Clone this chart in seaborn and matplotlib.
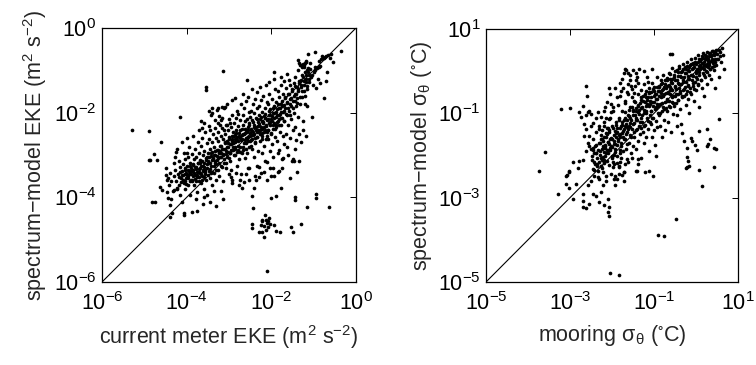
import numpy as np
import pandas as pd
import matplotlib
matplotlib.use("Agg")
import matplotlib.pyplot as plt
import seaborn as sns
from matplotlib.ticker import LogFormatterMathtext, NullLocator

# ---------------- data (log10 of the values) ----------------
# left panel: (current meter EKE, spectrum-model EKE), log10 m^2 s^-2
eke_log10 = [
    (-5.30,-2.40),(-4.89,-2.43),(-4.60,-2.70),(-4.89,-3.11),(-4.77,-2.97),(-4.16,-2.10),(-3.55,-1.39),(-3.55,-1.46),
    (-3.13,-1.01),(-2.58,-1.22),(-1.94,-1.05),(-0.98,-0.57),(-0.36,-0.54),
    (-4.82,-4.10),(-4.74,-4.10),(-4.62,-3.75),(-4.58,-3.83),(-4.43,-4.02),(-4.39,-4.18),(-4.35,-4.38),(-4.39,-4.46),
    (-4.07,-4.38),(-4.07,-4.42),(-3.87,-4.34),(-3.76,-4.32),(-4.86,-3.12),(-4.70,-3.12),(-4.50,-3.47),(-4.46,-3.59),
    (-4.31,-3.83),(-4.23,-3.79),(-3.62,-4.15),(-3.45,-4.12),(-3.30,-4.20),(-3.15,-4.05),(-4.25,-2.93),(-3.99,-2.95),
    (-3.40,-1.89),(-3.28,-1.93),(-3.17,-1.87),(-3.09,-1.87),(-3.40,-2.00),(-3.24,-2.09),(-3.20,-2.17),(-3.26,-2.24),
    (-3.60,-2.24),(-3.64,-2.36),(-3.48,-2.32),(-3.32,-2.36),(-3.17,-2.36),(-3.05,-2.28),
    (-4.48,-3.30),(-4.45,-3.55),(-4.42,-3.72),(-4.40,-3.42),(-4.36,-3.62),(-4.33,-3.85),(-4.31,-3.20),(-4.30,-3.50),
    (-4.47,-3.88),(-4.38,-4.05),
    (-4.28,-3.05),(-4.27,-3.35),(-4.25,-3.62),(-4.24,-3.80),(-4.22,-2.85),(-4.20,-3.45),(-4.19,-3.15),(-4.18,-3.70),
    (-4.16,-3.95),(-4.15,-3.28),(-4.14,-3.55),(-4.12,-2.70),(-4.11,-3.38),(-4.10,-4.10),
    (-4.09,-3.22),(-4.08,-3.48),(-4.07,-3.65),(-4.06,-2.95),(-4.05,-3.35),(-4.04,-3.80),(-4.03,-3.10),(-4.02,-3.55),
    (-4.01,-3.42),(-4.00,-2.60),(-3.99,-3.25),(-3.98,-3.70),(-3.97,-3.05),(-3.96,-3.50),(-3.95,-3.38),(-3.94,-2.80),
    (-3.93,-3.62),(-3.92,-3.18),(-3.91,-3.95),(-3.90,-3.30),
    (-3.89,-3.45),(-3.88,-2.98),(-3.87,-3.58),(-3.86,-3.22),(-3.85,-2.55),(-3.84,-3.35),(-3.83,-3.72),(-3.82,-3.10),
    (-3.81,-3.48),(-3.80,-2.85),(-3.79,-3.28),(-3.78,-3.62),(-3.77,-3.05),(-3.76,-3.40),(-3.75,-3.88),(-3.74,-2.70),
    (-3.73,-3.18),(-3.72,-3.52),(-3.71,-3.32),(-3.70,-2.95),(-3.79,-4.05),(-3.72,-2.40),
    (-3.69,-3.42),(-3.68,-3.12),(-3.67,-3.65),(-3.66,-2.78),(-3.65,-3.25),(-3.64,-3.50),(-3.63,-2.60),(-3.62,-3.00),
    (-3.61,-3.35),(-3.60,-3.80),(-3.59,-2.90),(-3.58,-3.20),(-3.57,-3.45),(-3.56,-2.45),(-3.55,-3.08),(-3.54,-3.60),
    (-3.53,-2.72),(-3.52,-3.30),(-3.51,-3.95),(-3.50,-2.95),(-3.66,-2.20),(-3.58,-4.00),
    (-3.49,-3.15),(-3.48,-2.62),(-3.47,-3.38),(-3.46,-2.85),(-3.45,-3.55),(-3.44,-2.40),(-3.43,-3.02),(-3.42,-3.25),
    (-3.41,-2.70),(-3.40,-3.70),(-3.39,-2.92),(-3.38,-3.10),(-3.37,-2.50),(-3.36,-3.42),(-3.35,-2.80),(-3.34,-3.20),
    (-3.33,-2.18),(-3.32,-3.00),(-3.31,-3.58),(-3.30,-2.60),(-3.48,-1.95),(-3.35,-3.85),(-3.42,-2.05),
    (-3.29,-2.88),(-3.28,-3.12),(-3.27,-2.45),(-3.26,-3.35),(-3.25,-2.68),(-3.24,-2.95),(-3.23,-3.50),(-3.22,-2.30),
    (-3.21,-2.78),(-3.20,-3.05),(-3.19,-2.55),(-3.18,-3.25),(-3.17,-2.85),(-3.16,-2.12),(-3.15,-3.62),(-3.14,-2.62),
    (-3.13,-2.98),(-3.12,-2.40),(-3.11,-3.18),(-3.10,-2.72),(-3.27,-1.90),(-3.18,-3.85),(-3.12,-1.88),
    (-3.09,-2.50),(-3.08,-2.90),(-3.07,-3.30),(-3.06,-2.28),(-3.05,-2.68),(-3.04,-3.05),(-3.03,-2.42),(-3.02,-2.82),
    (-3.01,-3.45),(-3.00,-2.15),(-2.99,-2.58),(-2.98,-2.95),(-2.97,-3.15),(-2.96,-2.35),(-2.95,-2.75),(-2.94,-2.05),
    (-2.93,-3.60),(-2.92,-2.62),(-2.91,-2.88),(-2.90,-2.45),(-3.05,-1.80),(-2.95,-3.35),(-2.92,-1.70),(-2.98,-2.25),
    (-2.89,-2.70),(-2.88,-2.25),(-2.87,-3.00),(-2.86,-2.52),(-2.85,-2.85),(-2.84,-2.12),(-2.83,-2.40),(-2.82,-3.25),
    (-2.81,-2.65),(-2.80,-1.95),(-2.79,-2.32),(-2.78,-2.78),(-2.77,-3.10),(-2.76,-2.48),(-2.75,-2.18),(-2.74,-2.92),
    (-2.73,-2.58),(-2.72,-1.80),(-2.71,-3.45),(-2.70,-2.38),(-2.86,-1.65),(-2.78,-2.02),(-2.74,-3.60),(-2.88,-2.55),
    (-2.69,-2.62),(-2.68,-2.05),(-2.67,-2.88),(-2.66,-2.30),(-2.65,-2.50),(-2.64,-1.88),(-2.63,-3.08),(-2.62,-2.20),
    (-2.61,-2.72),(-2.60,-2.42),(-2.59,-1.72),(-2.58,-2.95),(-2.57,-2.15),(-2.56,-2.58),(-2.55,-2.35),(-2.54,-3.30),
    (-2.53,-1.98),(-2.52,-2.80),(-2.51,-2.48),(-2.50,-2.10),(-2.66,-1.55),(-2.60,-3.45),(-2.55,-1.62),(-2.62,-2.65),
    (-2.52,-2.25),
    (-2.49,-2.65),(-2.48,-1.95),(-2.47,-2.38),(-2.46,-2.85),(-2.45,-2.18),(-2.44,-1.80),(-2.43,-2.52),(-2.42,-3.05),
    (-2.41,-2.28),(-2.40,-2.00),(-2.39,-2.70),(-2.38,-1.68),(-2.37,-2.42),(-2.36,-2.12),(-2.35,-3.25),(-2.34,-2.58),
    (-2.33,-1.90),(-2.32,-2.32),(-2.31,-2.90),(-2.30,-2.05),(-2.46,-1.45),(-2.38,-3.50),(-2.34,-1.52),(-2.44,-2.45),
    (-2.32,-2.22),
    (-2.29,-2.45),(-2.28,-1.85),(-2.27,-2.68),(-2.26,-2.15),(-2.25,-1.70),(-2.24,-2.35),(-2.23,-2.95),(-2.22,-1.98),
    (-2.21,-2.55),(-2.20,-2.25),(-2.19,-1.60),(-2.18,-2.78),(-2.17,-2.08),(-2.16,-2.42),(-2.15,-3.15),(-2.14,-1.88),
    (-2.13,-2.30),(-2.12,-2.62),(-2.11,-1.75),(-2.10,-2.18),(-2.26,-1.40),(-2.18,-3.40),(-2.12,-1.35),(-2.22,-2.48),
    (-2.09,-2.40),(-2.08,-1.80),(-2.07,-2.62),(-2.06,-2.05),(-2.05,-1.55),(-2.04,-2.28),(-2.03,-2.90),(-2.02,-1.92),
    (-2.01,-2.50),(-2.00,-2.15),(-1.99,-1.68),(-1.98,-2.75),(-1.97,-2.00),(-1.96,-2.38),(-1.95,-3.05),(-1.94,-1.85),
    (-1.93,-2.25),(-1.92,-1.45),(-1.91,-2.58),(-1.90,-2.10),(-2.06,-1.28),(-1.97,-3.30),(-1.93,-1.20),
    (-1.89,-2.35),(-1.88,-1.75),(-1.87,-2.05),(-1.86,-2.68),(-1.85,-1.50),(-1.84,-2.20),(-1.83,-1.90),(-1.82,-2.88),
    (-1.81,-1.62),(-1.80,-2.45),(-1.79,-2.02),(-1.78,-1.35),(-1.77,-2.30),(-1.76,-1.80),(-1.75,-3.10),(-1.74,-2.12),
    (-1.73,-1.55),(-1.72,-2.55),(-1.71,-1.95),(-1.70,-1.25),(-1.84,-3.40),(-1.78,-1.15),
    (-1.69,-2.20),(-1.68,-1.65),(-1.67,-1.90),(-1.66,-2.50),(-1.65,-1.42),(-1.64,-2.05),(-1.63,-1.78),(-1.62,-2.82),
    (-1.61,-1.55),(-1.60,-2.30),(-1.59,-1.22),(-1.58,-1.95),(-1.57,-2.60),(-1.56,-1.68),(-1.55,-1.35),(-1.54,-2.15),
    (-1.53,-1.85),(-1.52,-3.15),(-1.51,-1.50),(-1.50,-2.40),(-1.62,-1.08),
    (-1.49,-1.72),(-1.48,-3.10),(-1.47,-1.30),(-1.46,-2.00),(-1.45,-1.55),(-1.44,-2.35),(-1.43,-1.15),(-1.42,-1.85),
    (-1.41,-2.65),(-1.40,-1.40),(-1.39,-1.65),(-1.38,-2.10),(-1.37,-1.00),(-1.36,-1.50),(-1.35,-2.50),(-1.34,-1.25),
    (-1.33,-1.80),(-1.32,-0.88),
    (-1.29,-1.35),(-1.28,-1.10),(-1.27,-1.62),(-1.26,-0.85),(-1.25,-2.20),(-1.24,-1.25),(-1.23,-0.92),(-1.22,-1.48),
    (-1.21,-1.05),(-1.20,-1.80),(-1.19,-0.80),(-1.18,-1.20),(-1.17,-2.55),(-1.16,-1.00),(-1.15,-1.38),(-1.14,-0.95),
    (-1.12,-1.10),
    (-1.38,-0.76),(-1.34,-0.82),(-1.30,-0.88),(-1.27,-0.93),(-1.24,-0.88),(-1.21,-0.82),(-1.18,-0.77),(-1.08,-0.82),
    (-1.05,-1.10),(-1.00,-1.05),(-0.96,-1.00),(-0.92,-0.95),(-0.88,-0.92),(-0.84,-0.90),(-0.98,-0.92),(-0.87,-0.78),
    (-0.82,-0.74),(-0.78,-0.71),(-0.74,-0.68),(-0.70,-0.66),(-0.66,-0.64),(-0.80,-0.66),(-0.76,-0.70),(-0.62,-0.70),
    (-0.58,-0.62),(-1.10,-1.28),(-1.02,-1.35),(-0.90,-1.20),(-0.85,-1.30),(-0.95,-1.42),(-0.72,-1.25),(-0.68,-1.05),
    (-1.14,-0.62),(-0.55,-0.80),
    (-1.85,-2.95),(-1.70,-2.75),(-1.60,-3.00),(-1.45,-2.85),(-1.30,-2.70),(-1.40,-3.40),(-1.55,-3.55),(-1.75,-3.30),
    (-2.00,-3.50),(-2.10,-3.60),(-1.25,-2.40),(-1.05,-2.10),(-1.15,-1.85),(-0.75,-1.65),(-1.35,-3.15),
    (-2.11,-3.17),(-2.02,-3.31),(-1.82,-3.38),(-1.94,-3.49),(-1.72,-3.06),(-1.46,-3.13),(-1.76,-3.79),(-2.00,-4.01),
    (-1.88,-3.98),(-1.43,-4.00),(-1.43,-4.06),(-0.95,-3.93),(-0.95,-4.02),(-1.15,-4.22),(-0.64,-4.22),(-2.43,-4.26),
    (-2.15,-4.42),(-2.06,-4.48),(-2.13,-4.54),(-2.21,-4.57),(-2.25,-4.65),(-2.17,-4.67),(-2.09,-4.69),(-2.02,-4.64),
    (-2.13,-4.77),(-2.29,-4.81),(-2.21,-4.83),(-2.17,-4.93),(-2.45,-4.64),(-2.45,-4.73),(-1.94,-4.65),(-1.88,-4.80),
    (-1.80,-4.83),(-1.53,-4.69),(-1.48,-4.83),(-1.29,-4.64),(-2.11,-5.74),(-2.23,-4.53),(-2.07,-4.56),(-2.11,-4.61),
    (-2.69,-3.79),(-2.45,-3.96),(-2.92,-3.67),(-2.76,-3.71),(-2.65,-3.63),(-2.53,-3.59),(-2.37,-3.59),(-2.29,-3.51),
    (-2.25,-3.43),(-2.41,-3.79),(-2.84,-3.43),(-2.53,-3.31),(-2.29,-3.28),(-2.96,-3.51),
]

# denser core of the left cloud
eke_core_log10 = [
    (-4.18,-3.52),(-4.15,-3.41),(-4.13,-3.63),(-4.10,-3.47),(-4.08,-3.58),(-4.05,-3.30),(-4.03,-3.44),(-4.01,-3.68),
    (-3.98,-3.36),(-3.96,-3.55),(-3.94,-3.45),(-3.92,-3.27),(-3.90,-3.60),
    (-3.88,-3.38),(-3.86,-3.50),(-3.84,-3.24),(-3.82,-3.42),(-3.80,-3.57),(-3.78,-3.33),(-3.76,-3.47),(-3.74,-3.20),
    (-3.72,-3.40),(-3.70,-3.62),(-3.68,-3.30),(-3.66,-3.45),(-3.64,-3.15),(-3.62,-3.38),(-3.60,-3.52),
    (-3.58,-3.28),(-3.56,-3.40),(-3.54,-3.12),(-3.52,-3.22),(-3.50,-3.48),(-3.48,-3.05),(-3.46,-3.32),(-3.44,-3.18),
    (-3.42,-2.95),(-3.40,-3.40),(-3.38,-3.08),(-3.36,-3.25),(-3.34,-2.90),(-3.32,-3.15),(-3.30,-3.35),(-3.28,-3.02),
    (-3.26,-2.88),(-3.24,-3.20),(-3.22,-3.05),(-3.20,-2.78),(-3.18,-2.95),(-3.16,-3.28),(-3.14,-2.85),(-3.12,-3.10),
    (-3.10,-2.70),(-3.08,-2.98),(-3.06,-3.18),(-3.04,-2.80),(-3.02,-2.92),(-3.00,-2.62),(-2.99,-3.08),(-2.97,-2.75),
    (-2.95,-2.88),(-2.93,-2.55),(-2.91,-2.72),(-2.89,-3.00),(-2.87,-2.62),(-2.85,-2.80),(-2.83,-2.48),(-2.81,-2.92),
    (-2.79,-2.68),(-2.77,-2.55),(-2.75,-2.82),(-2.73,-2.40),(-2.71,-2.65),(-2.69,-2.95),(-2.67,-2.50),(-2.65,-2.72),
    (-2.63,-2.38),
    (-2.61,-2.60),(-2.59,-2.85),(-2.57,-2.45),(-2.55,-2.68),(-2.53,-2.30),(-2.51,-2.55),(-2.49,-2.78),(-2.47,-2.40),
    (-2.45,-2.62),(-2.43,-2.22),(-2.41,-2.50),(-2.39,-2.72),(-2.37,-2.35),(-2.35,-2.15),(-2.33,-2.58),(-2.31,-2.42),
    (-2.29,-2.28),
    (-2.27,-2.50),(-2.25,-2.10),(-2.23,-2.38),(-2.21,-2.62),(-2.19,-2.22),(-2.17,-2.45),(-2.15,-2.02),(-2.13,-2.32),
    (-2.11,-2.55),(-2.09,-2.15),(-2.07,-2.40),(-2.05,-1.95),(-2.03,-2.22),(-2.01,-2.48),(-1.99,-2.08),(-1.97,-2.30),
    (-1.95,-1.88),
    (-1.93,-2.12),(-1.91,-2.38),(-1.89,-1.98),(-1.87,-2.22),(-1.85,-1.80),(-1.83,-2.05),(-1.81,-2.30),(-1.79,-1.90),
    (-1.77,-2.12),(-1.75,-1.72),(-1.73,-1.98),(-1.71,-2.20),(-1.69,-1.82),(-1.67,-1.62),(-1.65,-2.02),
    (-1.63,-1.75),(-1.61,-1.90),(-1.59,-1.55),(-1.57,-1.80),(-1.55,-2.05),(-1.53,-1.65),(-1.51,-1.45),(-1.49,-1.88),
    (-1.47,-1.60),(-1.45,-1.72),(-1.43,-1.38),(-1.41,-1.55),(-1.39,-1.78),(-1.37,-1.45),(-1.35,-1.30),(-1.33,-1.62),
    (-1.31,-1.40),(-1.29,-1.22),(-1.27,-1.50),(-1.25,-1.15),(-1.23,-1.35),(-1.21,-1.60),(-1.19,-1.10),(-1.17,-1.28),
    (-1.15,-1.45),(-1.13,-1.05),(-1.11,-1.20),(-1.09,-0.98),(-1.07,-1.15),
    (-3.21,-2.90),(-3.15,-3.00),(-3.09,-2.86),(-3.03,-2.72),(-2.97,-2.95),(-2.94,-2.68),(-2.90,-2.82),(-2.86,-2.70),
    (-2.82,-2.58),(-2.78,-2.88),(-2.74,-2.60),(-2.70,-2.52),(-2.66,-2.80),(-2.62,-2.48),(-2.58,-2.62),(-2.54,-2.40),
    (-2.50,-2.66),(-2.46,-2.52),(-2.42,-2.35),(-2.38,-2.60),(-2.34,-2.45),(-2.30,-2.30),(-2.26,-2.40),(-2.22,-2.20),
    (-2.18,-2.35),(-2.14,-2.12),(-2.10,-2.45),(-2.06,-2.25),(-2.02,-2.05),(-1.98,-2.20),(-1.94,-2.00),(-1.90,-2.28),
    (-1.86,-1.92),(-1.82,-2.15),(-1.78,-1.98),(-1.74,-1.85),
    (-3.62,-3.25),(-3.57,-3.35),(-3.52,-3.05),(-3.47,-3.20),(-3.43,-3.42),(-3.39,-3.12),(-3.35,-3.00),(-3.31,-3.22),
    (-3.27,-3.08),(-3.23,-2.92),
    (-4.05,-3.62),(-3.99,-3.48),(-3.93,-3.38),(-3.87,-3.62),(-3.81,-3.28),(-3.75,-3.52),(-3.69,-3.18),(-3.63,-3.60),
]

# right panel: (mooring sigma_theta, spectrum-model sigma_theta), log10 deg C
sigma_log10 = [
    (-3.73,-2.36),(-3.60,-1.92),(-3.21,-0.89),(-3.01,-0.87),(-2.63,-0.34),(-2.60,-0.60),(-3.29,-2.92),
    (-3.10,-2.67),(-3.03,-2.78),(-2.86,-2.67),(-2.92,-3.03),(-2.70,-2.91),(-2.68,-3.07),(-2.70,-3.23),(-2.62,-3.25),
    (-2.54,-3.15),(-2.46,-2.91),(-2.38,-2.95),(-2.26,-2.87),(-2.30,-3.11),(-2.18,-3.17),(-2.10,-3.03),(-2.06,-3.23),
    (-2.10,-3.35),(-2.08,-3.43),(-3.03,-2.36),(-3.10,-2.48),(-2.94,-2.16),(-2.78,-2.12),(-2.70,-2.10),(-2.82,-2.30),
    (-2.58,-2.71),(-2.50,-2.60),(-2.42,-2.48),(-2.34,-2.36),(-2.26,-2.24),(-2.18,-2.16),(-2.46,-2.32),(-2.30,-2.56),
    (-2.14,-2.48),(-2.22,-2.71),(-2.05,-4.78),(-1.83,-4.84),(-3.07,-2.47),(-3.03,-2.39),
    (-0.21,-2.04),(-0.19,-2.14),(-0.17,-2.24),(-0.21,-2.28),(-0.24,-2.30),(0.06,-2.34),(0.42,-2.28),(0.14,-2.73),
    (-0.48,-3.51),(-0.90,-3.88),(-0.76,-3.91),
    (-1.96,-2.20),(-1.88,-2.17),(-1.80,-2.16),(-1.68,-2.20),(-1.84,-2.24),(-1.92,-2.48),(-1.84,-2.44),(-1.72,-2.40),
    (-1.72,-2.60),(-1.44,-2.36),(-1.40,-2.36),(-1.21,-2.40),(-1.11,-2.36),(-1.03,-2.48),(-1.37,-2.08),(-1.37,-2.20),
    (-1.64,-2.08),(-1.52,-2.06),(-1.88,-2.56),(-1.96,-2.56),(-1.76,-2.46),
    (0.54,-1.14),(0.26,-1.38),(0.06,-1.42),(0.34,-1.62),(0.42,-1.82),(0.26,-1.78),(-0.13,-1.58),(-0.10,-1.66),
    (-0.29,-1.66),(-0.21,-1.82),(-0.02,-1.74),(0.02,-1.86),(-0.33,-1.46),(-0.45,-1.30),(0.29,-1.72),(0.48,-1.84),
    (-2.70,-0.83),(-2.78,-0.98),(-2.74,-1.08),(-2.62,-1.05),(-2.54,-0.94),(-2.50,-1.02),(-2.58,-0.98),(-2.66,-1.26),
    (-2.62,-1.38),(-2.66,-1.54),(-2.54,-1.54),(-2.58,-1.70),(-2.54,-1.78),(-2.62,-1.90),(-2.46,-1.82),(-2.38,-1.94),
    (-2.22,-1.78),(-2.26,-1.62),(-2.14,-1.46),(-2.18,-1.30),(-2.30,-1.38),(-2.10,-1.34),(-2.06,-1.14),(-2.14,-1.10),
    (-2.02,-0.98),(-2.02,-0.79),(-2.06,-0.39),(-2.16,-0.84),(-2.26,-1.08),(-2.38,-1.10),(-2.34,-0.98),(-2.46,-1.22),
    (-2.50,-1.30),
    (-2.49,-1.85),(-2.47,-2.10),(-2.45,-1.62),(-2.44,-2.35),(-2.42,-1.95),(-2.41,-2.20),(-2.39,-1.45),(-2.37,-1.75),
    (-2.36,-2.05),(-2.34,-2.50),(-2.33,-1.88),(-2.31,-2.15),(-2.30,-1.30),
    (-2.29,-1.70),(-2.28,-1.98),(-2.27,-2.25),(-2.26,-1.52),(-2.25,-1.85),(-2.24,-2.10),(-2.23,-1.40),(-2.22,-2.40),
    (-2.21,-1.65),(-2.20,-1.92),(-2.19,-2.18),(-2.18,-1.20),(-2.17,-1.78),(-2.16,-2.02),(-2.15,-1.55),(-2.14,-2.60),
    (-2.13,-1.88),(-2.12,-1.35),(-2.11,-2.12),(-2.10,-1.68),
    (-2.09,-1.95),(-2.08,-1.45),(-2.07,-2.22),(-2.06,-1.72),(-2.05,-1.10),(-2.04,-1.88),(-2.03,-2.45),(-2.02,-1.58),
    (-2.01,-2.05),(-2.00,-1.30),(-1.99,-1.80),(-1.98,-2.15),(-1.97,-0.95),(-1.96,-1.65),(-1.95,-1.98),(-1.94,-1.42),
    (-1.93,-2.70),(-1.92,-1.85),(-1.91,-1.20),(-1.90,-1.55),
    (-1.89,-1.75),(-1.88,-2.00),(-1.87,-1.35),(-1.86,-0.80),(-1.85,-1.62),(-1.84,-2.28),(-1.83,-1.15),(-1.82,-1.88),
    (-1.81,-1.48),(-1.80,-0.60),(-1.79,-1.70),(-1.78,-2.05),(-1.77,-1.28),(-1.76,-0.95),(-1.75,-1.55),(-1.74,-1.90),
    (-1.73,-0.40),(-1.72,-1.38),(-1.71,-2.40),(-1.70,-1.10),(-1.76,-0.18),(-1.72,-0.05),
    (-1.69,-1.62),(-1.68,-0.75),(-1.67,-1.25),(-1.66,-1.85),(-1.65,-0.50),(-1.64,-1.45),(-1.63,-1.05),(-1.62,-2.15),
    (-1.61,-0.30),(-1.60,-1.70),(-1.59,-1.30),(-1.58,-0.85),(-1.57,-1.52),(-1.56,-0.10),(-1.55,-1.15),(-1.54,-1.95),
    (-1.53,-0.62),(-1.52,-1.38),(-1.51,-0.95),(-1.50,-1.78),(-1.66,0.02),(-1.58,-0.20),(-1.52,-0.42),
    (-1.49,-1.25),(-1.48,-0.70),(-1.47,-1.55),(-1.46,-0.35),(-1.45,-1.05),(-1.44,-1.85),(-1.43,-0.88),(-1.42,-1.40),
    (-1.41,-0.15),(-1.40,-1.15),(-1.39,-0.55),(-1.38,-1.65),(-1.37,-0.98),(-1.36,-1.30),(-1.35,0.05),(-1.34,-0.75),
    (-1.33,-1.50),(-1.32,-0.45),(-1.31,-1.10),(-1.30,-2.05),(-1.44,-0.05),(-1.38,-0.28),
    (-1.29,-0.85),(-1.28,-1.20),(-1.27,-0.60),(-1.26,-1.45),(-1.25,-0.30),(-1.24,-1.00),(-1.23,-1.70),(-1.22,-0.72),
    (-1.21,-1.28),(-1.20,-0.48),(-1.19,-0.95),(-1.18,-1.55),(-1.17,-0.15),(-1.16,-1.10),(-1.15,-0.62),(-1.14,-1.38),
    (-1.13,-0.82),(-1.12,-1.90),(-1.11,-0.40),(-1.10,-1.05),(-1.24,0.00),(-1.15,-0.25),
    (-1.09,-0.70),(-1.08,-1.25),(-1.07,-0.50),(-1.06,-0.95),(-1.05,-1.55),(-1.04,-0.28),(-1.03,-0.82),(-1.02,-1.10),
    (-1.01,-0.60),(-1.00,-1.40),(-0.99,-0.38),(-0.98,-0.90),(-0.97,-1.75),(-0.96,-0.65),(-0.95,-1.18),(-0.94,-0.15),
    (-0.93,-0.78),(-0.92,-1.32),(-0.91,-0.48),(-0.90,-1.00),(-1.05,0.05),(-0.96,-2.00),
    (-0.89,-0.58),(-0.88,-1.05),(-0.87,-0.35),(-0.86,-0.78),(-0.85,-1.30),(-0.84,-0.22),(-0.83,-0.62),(-0.82,-0.95),
    (-0.81,-1.55),(-0.80,-0.45),(-0.79,-0.85),(-0.78,-0.10),(-0.77,-1.15),(-0.76,-0.55),(-0.75,-0.72),(-0.74,-0.30),
    (-0.73,-1.40),(-0.72,-0.88),(-0.71,-0.40),(-0.70,-0.65),
    (-0.69,-0.95),(-0.68,-0.20),(-0.67,-0.52),(-0.66,-1.20),(-0.65,-0.70),(-0.64,-0.05),(-0.63,-0.38),(-0.62,-0.85),
    (-0.61,-0.55),(-0.60,-1.45),(-0.59,-0.25),(-0.58,-0.72),(-0.57,0.08),(-0.56,-0.45),(-0.55,-1.02),(-0.54,-0.60),
    (-0.53,-0.15),(-0.52,-0.82),(-0.51,-0.35),(-0.50,-0.58),(-0.62,0.40),(-0.57,0.40),
    (-0.49,-0.20),(-0.48,-0.75),(-0.47,-0.42),(-0.46,0.02),(-0.45,-1.05),(-0.44,-0.55),(-0.43,-0.28),(-0.42,-0.68),
    (-0.41,0.12),(-0.40,-0.40),(-0.39,-0.90),(-0.38,-0.12),(-0.37,-0.52),(-0.36,-0.30),(-0.35,-1.25),(-0.34,0.00),
    (-0.33,-0.62),(-0.32,-0.22),(-0.31,-0.45),(-0.30,0.18),
    (-0.29,-0.58),(-0.28,-0.15),(-0.27,-0.38),(-0.26,0.10),(-0.25,-0.80),(-0.24,-0.25),(-0.23,-0.05),(-0.22,-0.48),
    (-0.21,0.22),(-0.20,-0.32),(-0.19,-0.65),(-0.18,0.02),(-0.17,-0.18),(-0.16,-1.00),(-0.15,0.15),(-0.14,-0.40),
    (-0.13,-0.10),(-0.12,0.28),(-0.11,-0.55),(-0.10,-0.22),
    (-0.09,0.05),(-0.08,-0.35),(-0.07,0.20),(-0.06,-0.12),(-0.05,-0.70),(-0.04,0.10),(-0.03,-0.25),(-0.02,0.32),
    (-0.01,-0.05),(0.00,-0.45),(0.01,0.18),(0.02,-0.18),(0.03,0.02),(0.04,0.38),(0.05,-0.30),(0.06,0.12),
    (0.07,-0.85),(0.08,-0.08),(0.09,0.25),(0.10,0.05),
    (0.11,-0.20),(0.12,0.30),(0.13,0.10),(0.14,-0.40),(0.15,0.20),(0.16,-0.05),(0.17,0.42),(0.18,0.15),
    (0.19,-0.60),(0.20,0.05),(0.21,0.28),(0.22,-0.15),(0.23,0.35),(0.24,0.00),(0.25,0.18),(0.26,-0.30),
    (0.27,0.45),(0.28,0.10),(0.29,0.25),(0.30,-0.08),
    (0.31,0.35),(0.32,0.15),(0.33,0.05),(0.34,0.42),(0.35,0.25),(0.36,-0.18),(0.37,0.30),(0.38,0.10),
    (0.40,0.48),(0.41,0.20),(0.42,0.38),(0.43,0.02),(0.45,0.30),(0.46,0.45),(0.48,0.15),(0.50,0.40),
    (0.52,0.28),(0.54,0.50),(0.56,0.35),(0.58,0.45),(0.60,0.22),(0.62,0.55),(0.64,0.38),(0.55,-0.15),
    (0.66,0.05),(0.45,-0.40),
    (-2.21,-2.03),(-2.04,-1.82),(-1.96,-1.73),(-1.84,-1.52),(-1.77,-1.47),(-1.64,-1.33),(-1.56,-1.22),(-1.44,-1.12),
    (-1.36,-0.93),(-1.24,-0.91),(-1.16,-0.78),(-1.04,-0.72),(-0.96,-0.53),(-0.84,-0.52),(-0.76,-0.38),(-0.64,-0.32),
    (-0.56,-0.18),(-0.44,-0.12),(-0.36,-0.03),(-0.24,0.06),(-0.16,0.11),(-0.06,0.17),(0.04,0.21),(0.16,0.32),
    (0.24,0.34),(0.36,0.39),(-2.16,-1.82),(-2.01,-1.61),(-1.91,-1.47),(-1.79,-1.31),(-1.71,-1.16),(-1.59,-1.07),
    (-1.51,-0.91),(-1.39,-0.82),(-1.31,-0.69),(-1.19,-0.62),(-1.11,-0.51),(-0.99,-0.46),(-0.89,-0.37),(-0.81,-0.27),
    (-0.69,-0.16),(-0.61,-0.07),(-0.49,0.01),(-0.41,0.07),(-2.35,-2.25),(-2.25,-2.30),(-1.98,-2.28),(-1.80,-1.95),
    (-1.65,-1.72),(-1.48,-1.45),(-1.30,-1.35),(-1.10,-1.20),(-0.95,-0.85),(-0.78,-0.60),(-0.62,-0.45),(-0.40,-0.30),
    (-0.20,-0.12),(0.00,0.00),(0.20,0.15),
]

# denser core of the right cloud
sigma_core_log10 = [
    (-2.48,-2.02),(-2.45,-1.88),(-2.42,-2.15),(-2.40,-1.78),(-2.37,-1.95),(-2.35,-2.20),(-2.32,-1.70),(-2.29,-1.90),
    (-2.27,-2.05),(-2.24,-1.62),(-2.22,-1.82),(-2.20,-2.10),
    (-2.18,-1.55),(-2.16,-1.75),(-2.14,-1.95),(-2.12,-1.48),(-2.10,-1.68),(-2.08,-1.88),(-2.06,-1.40),(-2.04,-1.60),
    (-2.02,-1.78),(-2.00,-2.02),(-1.98,-1.35),(-1.96,-1.52),(-1.94,-1.72),(-1.92,-1.92),
    (-1.90,-1.28),(-1.88,-1.45),(-1.86,-1.65),(-1.84,-1.10),(-1.82,-1.35),(-1.80,-1.55),(-1.78,-1.78),(-1.76,-1.20),
    (-1.74,-1.42),(-1.72,-1.62),(-1.70,-0.98),(-1.68,-1.30),(-1.66,-1.50),(-1.64,-1.15),(-1.62,-1.38),
    (-1.60,-0.92),(-1.58,-1.10),(-1.56,-1.32),(-1.54,-1.55),(-1.52,-0.85),(-1.50,-1.05),(-1.48,-1.22),(-1.46,-0.72),
    (-1.44,-0.95),(-1.42,-1.15),(-1.40,-1.38),(-1.38,-0.80),(-1.36,-1.02),(-1.34,-1.20),(-1.32,-0.62),
    (-1.30,-0.88),(-1.28,-1.05),(-1.26,-0.70),(-1.24,-1.30),(-1.22,-0.55),(-1.20,-0.82),(-1.18,-1.00),(-1.16,-0.68),
    (-1.14,-1.18),(-1.12,-0.50),(-1.10,-0.78),(-1.08,-0.95),(-1.06,-0.62),(-1.04,-1.10),(-1.02,-0.42),
    (-1.00,-0.72),(-0.98,-0.55),(-0.96,-0.88),(-0.94,-0.38),(-0.92,-0.65),(-0.90,-0.82),(-0.88,-0.48),(-0.86,-1.00),
    (-0.84,-0.30),(-0.82,-0.58),(-0.80,-0.75),(-0.78,-0.42),(-0.76,-0.90),(-0.74,-0.22),(-0.72,-0.52),
    (-0.70,-0.70),(-0.68,-0.35),(-0.66,-0.50),(-0.64,-0.82),(-0.62,-0.18),(-0.60,-0.42),(-0.58,-0.62),(-0.56,-0.28),
    (-0.54,-0.75),(-0.52,-0.10),(-0.50,-0.38),(-0.48,-0.55),(-0.46,-0.22),(-0.44,-0.68),(-0.42,-0.02),
    (-0.40,-0.30),(-0.38,-0.48),(-0.36,-0.15),(-0.34,-0.60),(-0.32,0.05),(-0.30,-0.25),(-0.28,-0.42),(-0.26,-0.05),
    (-0.24,-0.55),(-0.22,0.12),(-0.20,-0.18),(-0.18,-0.35),(-0.16,0.00),(-0.14,-0.50),(-0.12,0.18),
    (-0.10,-0.10),(-0.08,-0.28),(-0.06,0.08),(-0.04,-0.42),(-0.02,0.22),(0.00,-0.15),(0.02,0.05),(0.04,-0.32),
    (0.06,0.28),(0.08,-0.02),(0.10,0.15),(0.12,-0.22),(0.14,0.35),(0.16,0.08),(0.18,-0.10),
    (0.20,0.22),(0.22,0.38),(0.24,0.12),(0.26,-0.02),(0.28,0.30),(0.30,0.42),(0.32,0.20),(0.34,0.05),
    (0.36,0.35),(0.38,0.48),(0.40,0.25),(0.42,0.12),(0.44,0.40),(0.46,0.22),(0.48,0.50),(0.50,0.30),
    (-2.20,-0.95),(-2.12,-0.72),(-2.05,-0.55),(-1.98,-0.85),(-1.92,-0.40),(-1.88,-0.62),(-1.82,-0.28),(-1.78,-0.48),
    (-1.70,-0.70),(-1.62,-0.55),(-1.55,-0.35),(-1.48,-0.52),(-1.62,-0.05),(-1.70,0.05),(-1.50,0.02),(-1.42,-0.22),
]

eke_ticks = [1e-6, 1e-4, 1e-2, 1e0]
sigma_ticks = [1e-5, 1e-3, 1e-1, 1e1]

eke_df = pd.DataFrame(10.0 ** np.array(eke_log10 + eke_core_log10), columns=["current", "model"])
sig_df = pd.DataFrame(10.0 ** np.array(sigma_log10 + sigma_core_log10), columns=["mooring", "model"])

# ---------------- style ----------------
sns.set_style("white")
plt.rcParams["font.family"] = ["Liberation Sans", "DejaVu Sans"]
plt.rcParams["mathtext.fontset"] = "custom"
plt.rcParams["mathtext.rm"] = "Liberation Sans"
plt.rcParams["mathtext.it"] = "Liberation Sans:italic"
plt.rcParams["mathtext.default"] = "regular"

FS = 15.5
fig = plt.figure(figsize=(7.56, 3.65), dpi=100)
W, H = 756.0, 365.0
ax1 = fig.add_axes([102 / W, (H - 282) / H, 254 / W, 254 / H])
ax2 = fig.add_axes([486 / W, (H - 282) / H, 252 / W, 253 / H])


def style(ax, ticks):
    ax.set_xscale("log")
    ax.set_yscale("log")
    ax.set_xlim(ticks[0], ticks[-1])
    ax.set_ylim(ticks[0], ticks[-1])
    ax.set_xticks(ticks)
    ax.set_yticks(ticks)
    ax.xaxis.set_minor_locator(NullLocator())
    ax.yaxis.set_minor_locator(NullLocator())
    ax.xaxis.set_major_formatter(LogFormatterMathtext())
    ax.yaxis.set_major_formatter(LogFormatterMathtext())
    ax.tick_params(which="both", direction="in", top=True, right=True, length=4, width=0.7,
                   labelsize=FS, colors="black")
    ax.tick_params(axis="x", pad=7)
    ax.tick_params(axis="y", pad=4)
    for s in ax.spines.values():
        s.set_color("black")
        s.set_linewidth(0.9)
    ax.plot(ticks[::3], ticks[::3], color="black", lw=0.8, zorder=1)


sns.scatterplot(data=eke_df, x="current", y="model", ax=ax1, color="black", s=7,
                marker="o", linewidth=0, zorder=3, legend=False)
style(ax1, eke_ticks)
ax1.set_xlabel("current meter EKE (m$^{2}$ s$^{−2}$)", fontsize=FS, labelpad=6)
ax1.set_ylabel("spectrum−model EKE (m$^{2}$ s$^{−2}$)", fontsize=FS, labelpad=3)

sns.scatterplot(data=sig_df, x="mooring", y="model", ax=ax2, color="black", s=7,
                marker="o", linewidth=0, zorder=3, legend=False)
style(ax2, sigma_ticks)
ax2.set_xlabel("mooring σ$_{θ}$ ($^{\\circ}$C)", fontsize=FS, labelpad=6)
ax2.set_ylabel("spectrum−model σ$_{θ}$ ($^{\\circ}$C)", fontsize=FS, labelpad=3)

fig.savefig("out.png", dpi=100)
